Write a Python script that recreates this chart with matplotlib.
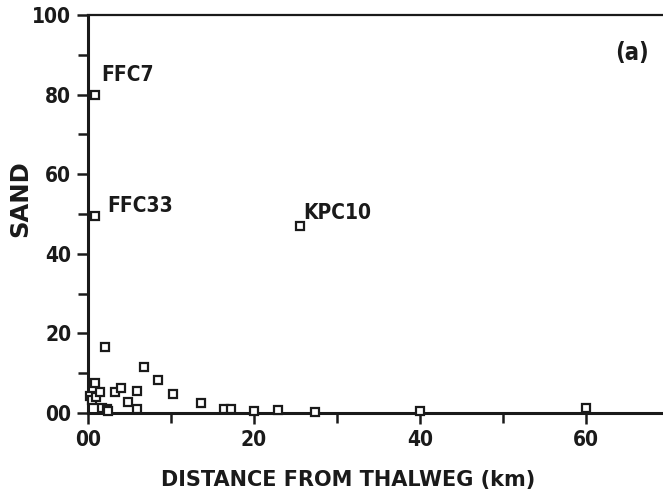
import numpy as np
import matplotlib
matplotlib.use('Agg')
import matplotlib.pyplot as plt
from matplotlib.ticker import MultipleLocator, FixedFormatter, FixedLocator

# 距离（km）和含砂量
dist = [0.8, 0.8, 25.5,
        2.0, 0.84, 0.3, 0.45, 1.0, 1.5, 1.7, 2.3, 2.4, 3.2, 4.0, 4.8, 5.9, 5.9,
        6.8, 8.4, 10.3, 13.6, 16.4, 17.2, 20.0, 22.9, 27.4, 40.0, 60.0]
sand = [80.0, 49.5, 47.0,
        16.7, 7.6, 4.3, 3.3, 3.9, 5.3, 1.2, 1.1, 0.6, 5.3, 6.2, 2.7, 5.6, 0.9,
        11.5, 8.2, 4.7, 2.5, 1.1, 1.1, 0.5, 0.7, 0.3, 0.5, 1.2]
names = ['FFC7', 'FFC33', 'KPC10']
name_offsets = [(4.8, 9.5), (9.4, 2.9), (2.9, 5.0)]
xticks = [0, 20, 40, 60]
xticklabels = ['00', '20', '40', '60']
yticks = [0, 20, 40, 60, 80, 100]
yticklabels = ['00', '20', '40', '60', '80', '100']

ink = '#1a1a1a'
tfont = dict(family='DejaVu Sans', stretch='condensed', weight='bold')

fig = plt.figure(figsize=(6.63, 5.03), dpi=100)
ax = fig.add_axes([0.1327, 0.179, 0.876, 0.791])
ax.plot(dist, sand, 's', ms=5.5, mfc='white', mec=ink, mew=1.6, clip_on=False, zorder=3)

ax.set_xlim(0, 70)
ax.set_ylim(0, 100)
ax.xaxis.set_major_locator(FixedLocator(xticks))
ax.xaxis.set_major_formatter(FixedFormatter(xticklabels))
ax.xaxis.set_minor_locator(MultipleLocator(10))
ax.yaxis.set_major_locator(FixedLocator(yticks))
ax.yaxis.set_major_formatter(FixedFormatter(yticklabels))
ax.yaxis.set_minor_locator(MultipleLocator(10))
ax.tick_params(which='both', direction='out', width=1.8, color=ink)
ax.tick_params(which='major', length=8, pad=4)
ax.tick_params(which='minor', length=7)
for lab in ax.get_xticklabels() + ax.get_yticklabels():
    lab.set_fontproperties(matplotlib.font_manager.FontProperties(size=15, **tfont))
    lab.set_color(ink)

for s in ['left', 'bottom']:
    ax.spines[s].set_linewidth(2.2)
ax.spines['top'].set_linewidth(1.6)
ax.spines['right'].set_visible(False)
for s in ax.spines.values():
    s.set_color(ink)

# 样品标签
for i in range(3):
    ax.annotate(names[i], (dist[i], sand[i]), xytext=name_offsets[i], textcoords='offset points',
                va='baseline', fontsize=15, color=ink, **tfont)

ax.text(0.965, 0.905, '(a)', transform=ax.transAxes, ha='right', va='center',
        fontsize=17, color=ink, **tfont)

fig.text(0.030, 0.606, 'SAND', rotation=90, ha='center', va='center',
         fontsize=17.5, fontweight='bold', family='DejaVu Sans', color=ink)
fig.text(0.525, 0.046, 'DISTANCE FROM THALWEG (km)', ha='center', va='center',
         fontsize=15, fontweight='bold', family='DejaVu Sans', color=ink)

fig.savefig('out.png', dpi=100)
